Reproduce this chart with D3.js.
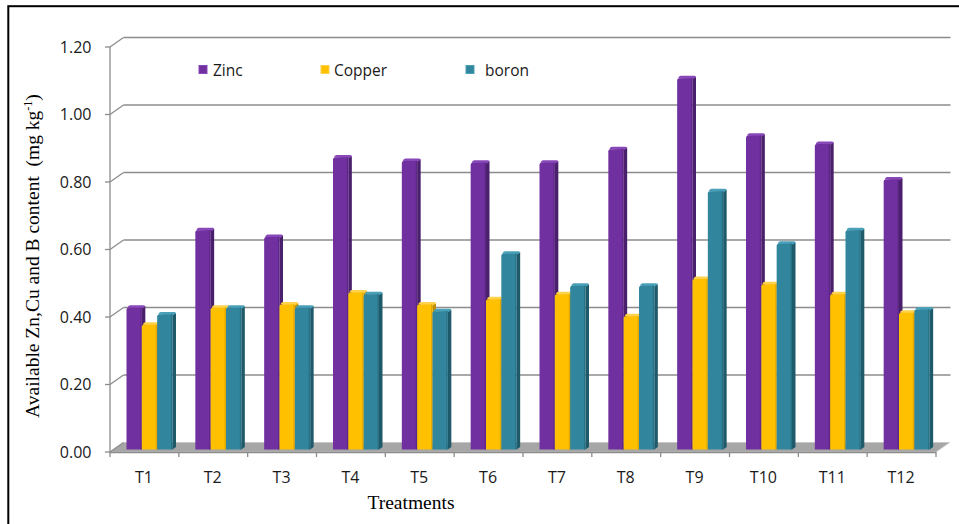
<!DOCTYPE html>
<html>
<head>
<meta charset="utf-8">
<script src="https://cdn.jsdelivr.net/npm/d3@7/dist/d3.min.js"></script>
<style>
  body { margin: 0; background: #fff; }
  svg { display: block; }
</style>
</head>
<body>
<svg id="chart" width="959" height="524"></svg>
<script>
// Micronutrient content by treatment
const categories = ["T1", "T2", "T3", "T4", "T5", "T6", "T7", "T8", "T9", "T10", "T11", "T12"];
const seriesNames = ["Zinc", "Copper", "boron"];
const zinc   = [0.42, 0.65, 0.63, 0.865, 0.855, 0.85, 0.85, 0.89, 1.10, 0.93, 0.905, 0.80];
const copper = [0.37, 0.42, 0.43, 0.465, 0.43, 0.445, 0.46, 0.395, 0.505, 0.49, 0.46, 0.405];
const boron  = [0.40, 0.42, 0.42, 0.46, 0.41, 0.58, 0.485, 0.485, 0.765, 0.61, 0.65, 0.415];
const yTicks = [0, 0.2, 0.4, 0.6, 0.8, 1.0, 1.2];
const yTickLabels = ["0.00", "0.20", "0.40", "0.60", "0.80", "1.00", "1.20"];

const seriesValues = [zinc, copper, boron];
const faceColor = ["#7030a0", "#ffc000", "#31859c"];
const sideColor = ["#4a1f6c", "#c08e00", "#1f5a6a"];
const topColor  = ["#8848b8", "#ffd24d", "#4aa0b8"];

const labelFont = "Open Sans, sans-serif";
const titleFont = "Liberation Serif, Times New Roman, serif";
const textColor = "#1a1a1a";

const svg = d3.select("#chart");

// outer frame
svg.append("rect")
  .attr("x", 8.3).attr("y", 6.2).attr("width", 980).attr("height", 540)
  .attr("fill", "none").attr("stroke", "#000").attr("stroke-width", 2);

// scales (front plane)
const x = d3.scaleBand().domain(categories).range([110, 936]).padding(0);
const y = d3.scaleLinear().domain([0, 1.2]).range([452, 47]);
const x1 = d3.scaleBand().domain(seriesNames).range([0, 46]).padding(0);

// perspective offsets
const wall = { dx: 13.5, dy: -9.5 };
const barDepth = { dx: 4, dy: -2.5, side: 3.5, rise: 2.5 };
const groupOffset = 12.5;

const gridColor = "#8c8c8c";

// floor
const floorY = y(0);
svg.append("path")
  .attr("d", `M${x.range()[0]},${floorY} L${x.range()[1]},${floorY} L${x.range()[1] + wall.dx},${floorY + wall.dy} L${x.range()[0] + wall.dx},${floorY + wall.dy} Z`)
  .attr("fill", "#a6a6a6").attr("stroke", "#c8c8c8").attr("stroke-width", 1);

// back-wall gridlines with slanted connectors to the front axis
const grid = svg.append("g");
yTicks.forEach(t => {
  const yf = y(t), yb = y(t) + wall.dy;
  if (t > 0) {
    grid.append("line")
      .attr("x1", x.range()[0] + wall.dx).attr("x2", x.range()[1] + wall.dx + 1)
      .attr("y1", yb).attr("y2", yb)
      .attr("stroke", gridColor).attr("stroke-width", 1.6);
  }
  grid.append("line")
    .attr("x1", x.range()[0]).attr("y1", yf)
    .attr("x2", x.range()[0] + wall.dx).attr("y2", yb)
    .attr("stroke", gridColor).attr("stroke-width", 1.3);
});

// y axis line, ticks and labels
const yAxis = svg.append("g");
yAxis.append("line")
  .attr("x1", 110).attr("x2", 110).attr("y1", y(1.2)).attr("y2", y(0))
  .attr("stroke", gridColor).attr("stroke-width", 1.3);
yTicks.forEach((t, i) => {
  yAxis.append("line")
    .attr("x1", 105).attr("x2", 110).attr("y1", y(t)).attr("y2", y(t))
    .attr("stroke", gridColor).attr("stroke-width", 1.3);
  yAxis.append("text")
    .attr("x", 91.5).attr("y", y(t)).attr("dy", "0.36em")
    .attr("text-anchor", "end")
    .attr("font-family", labelFont).attr("font-size", 16)
    .attr("fill", textColor)
    .text(yTickLabels[i]);
});

// x axis front edge, ticks and labels
const xAxis = svg.append("g");
xAxis.append("line")
  .attr("x1", x.range()[0]).attr("x2", x.range()[1]).attr("y1", floorY + 0.5).attr("y2", floorY + 0.5)
  .attr("stroke", gridColor).attr("stroke-width", 1.3);
const boundaries = categories.map(c => x(c)).concat([x.range()[1]]);
boundaries.forEach(bx => {
  xAxis.append("line")
    .attr("x1", bx).attr("x2", bx).attr("y1", floorY).attr("y2", floorY + 5)
    .attr("stroke", gridColor).attr("stroke-width", 1.3);
});
categories.forEach(c => {
  xAxis.append("text")
    .attr("x", x(c) + x.bandwidth() / 2 - 0.5).attr("y", 482.5)
    .attr("text-anchor", "middle")
    .attr("font-family", labelFont).attr("font-size", 16)
    .attr("fill", textColor)
    .text(c);
});

// 3-D style columns
const bars = svg.append("g");
categories.forEach((c, ci) => {
  seriesNames.forEach((s, si) => {
    const v = seriesValues[si][ci];
    const x0 = x(c) + groupOffset + x1(s) + barDepth.dx;
    const w = x1.bandwidth();
    const yt = y(v) + barDepth.dy;
    const yb = y(0) + barDepth.dy;
    const sd = barDepth.side, rs = barDepth.rise;
    const g = bars.append("g");
    // right side face
    g.append("path")
      .attr("d", `M${x0 + w},${yt} L${x0 + w + sd},${yt - rs + 1} L${x0 + w + sd},${yb - rs} L${x0 + w},${yb} Z`)
      .attr("fill", sideColor[si]);
    // top face
    g.append("path")
      .attr("d", `M${x0 + 1},${yt} Q${x0 + 1.5},${yt - rs} ${x0 + sd},${yt - rs} L${x0 + w + sd - 1.5},${yt - rs} Q${x0 + w + sd},${yt - rs} ${x0 + w + sd},${yt - rs + 1.5} L${x0 + w},${yt + 1} Z`)
      .attr("fill", topColor[si]);
    // front face
    g.append("path")
      .attr("d", `M${x0},${yb} L${x0},${yt + 2} Q${x0},${yt} ${x0 + 2},${yt} L${x0 + w},${yt} L${x0 + w},${yb} Z`)
      .attr("fill", faceColor[si]);
    // subtle edge shading on the front face
    g.append("rect")
      .attr("x", x0 + w - 1.5).attr("y", yt).attr("width", 1.5).attr("height", yb - yt)
      .attr("fill", sideColor[si]).attr("opacity", 0.45);
  });
});

// legend
const legendX = [199, 321, 466];
const legendTextX = [213, 334, 485];
const legend = svg.append("g");
seriesNames.forEach((s, si) => {
  legend.append("rect")
    .attr("x", legendX[si]).attr("y", 65.5).attr("width", 8).attr("height", 8)
    .attr("fill", faceColor[si]).attr("stroke", topColor[si]).attr("stroke-width", 1);
  legend.append("text")
    .attr("x", legendTextX[si]).attr("y", 76)
    .attr("font-family", labelFont).attr("font-size", 15.5)
    .attr("fill", textColor)
    .text(s);
});

// axis titles
svg.append("text")
  .attr("x", 411).attr("y", 509)
  .attr("text-anchor", "middle")
  .attr("font-family", titleFont).attr("font-size", 19.5)
  .attr("fill", "#000")
  .text("Treatments");

const yTitle = svg.append("text")
  .attr("transform", "translate(39,256) rotate(-90)")
  .attr("text-anchor", "middle")
  .attr("font-family", titleFont).attr("font-size", 19.5)
  .attr("fill", "#000")
  .attr("xml:space", "preserve");
yTitle.append("tspan").text("Available Zn,Cu and B content  (mg kg");
yTitle.append("tspan").attr("dy", -7).attr("font-size", 12).text("-1");
yTitle.append("tspan").attr("dy", 7).text(")");
</script>
</body>
</html>
